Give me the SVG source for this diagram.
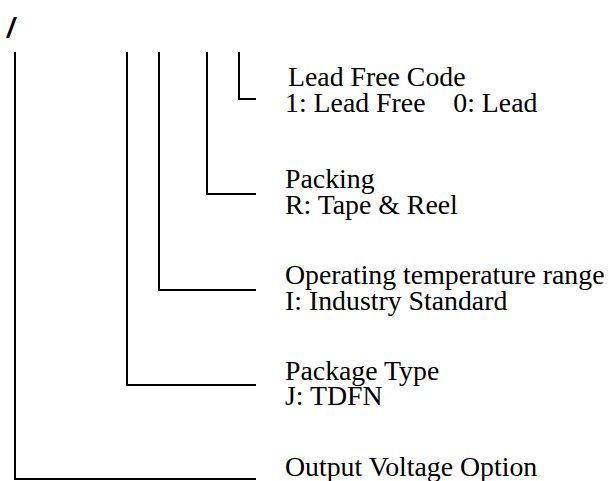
<svg xmlns="http://www.w3.org/2000/svg" width="609" height="481" viewBox="0 0 609 481">
<style>
.c{fill:none;stroke:#000;stroke-width:2}
.t{font-family:"Liberation Serif","Times New Roman",serif;font-size:27.8px;fill:#000}
.s{font-family:"Liberation Sans",Arial,sans-serif;font-size:27px;font-weight:bold;font-style:italic;fill:#000}
</style>
<rect width="609" height="481" fill="#fff"/>
<text class="s" x="7" y="37">/</text>
<g id="connectors">
<path class="c" d="M239 52V99H256"/>
<path class="c" d="M207 52V194H256"/>
<path class="c" d="M159 52V290H256"/>
<path class="c" d="M127 52V385H256"/>
<path class="c" d="M15 52V479H256"/>
</g>
<g id="lead-free"><text class="t" x="288" y="86">Lead Free Code</text><text class="t" x="285" y="112" xml:space="preserve">1: Lead Free    0: Lead</text></g>
<g id="packing"><text class="t" x="285" y="188">Packing</text><text class="t" x="285" y="214">R: Tape &amp; Reel</text></g>
<g id="temp"><text class="t" x="285" y="284">Operating temperature range</text><text class="t" x="285" y="310">I: Industry Standard</text></g>
<g id="package"><text class="t" x="285" y="380">Package Type</text><text class="t" x="285" y="405">J: TDFN</text></g>
<g id="voltage"><text class="t" x="285" y="476">Output Voltage Option</text></g>
</svg>
